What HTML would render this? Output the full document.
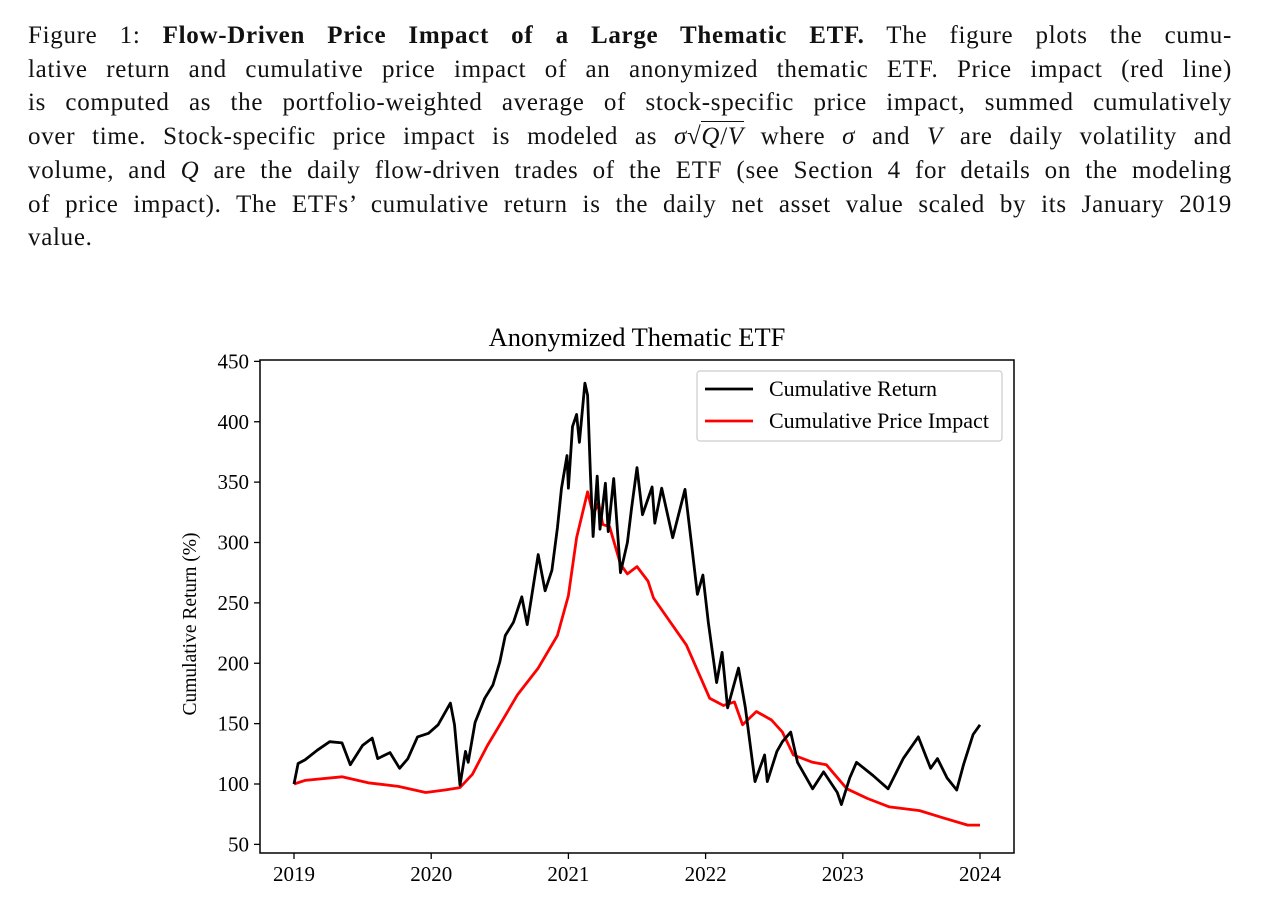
<!DOCTYPE html>
<html><head><meta charset="utf-8"><style>
body{margin:0;background:#fff;width:1269px;height:913px;overflow:hidden;font-family:"Liberation Serif",serif;}
#cap{position:absolute;left:28px;top:19px;width:1204px;font-size:25px;letter-spacing:0.7px;line-height:33.7px;color:#111;}
#cap div{text-align:justify;text-align-last:justify;white-space:nowrap;}
#cap div.last{text-align-last:left;}
.sq{border-top:1.5px solid #111;padding-top:1px;}
</style></head><body>
<div id="cap">
<div>Figure 1: <b>Flow-Driven Price Impact of a Large Thematic ETF.</b> The figure plots the cumu-</div>
<div>lative return and cumulative price impact of an anonymized thematic ETF. Price impact (red line)</div>
<div>is computed as the portfolio-weighted average of stock-specific price impact, summed cumulatively</div>
<div>over time. Stock-specific price impact is modeled as <i>σ</i>√<span class="sq"><i>Q</i>/<i>V</i></span> where <i>σ</i> and <i>V</i> are daily volatility and</div>
<div>volume, and <i>Q</i> are the daily flow-driven trades of the ETF (see Section 4 for details on the modeling</div>
<div>of price impact). The ETFs’ cumulative return is the daily net asset value scaled by its January 2019</div>
<div class="last">value.</div>
</div>
<svg id="chart" width="1269" height="913" style="position:absolute;left:0;top:0" font-family="Liberation Serif, serif"></svg>
<script>
const yTicks=[50,100,150,200,250,300,350,400,450];
const xTicks=[2019,2020,2021,2022,2023,2024];
const retT=[0,0.03,0.08,0.17,0.26,0.35,0.41,0.5,0.57,0.61,0.7,0.77,0.83,0.9,0.98,1.05,1.14,1.17,1.21,1.25,1.27,1.32,1.39,1.45,1.5,1.54,1.6,1.66,1.7,1.73,1.78,1.83,1.88,1.92,1.95,1.99,2,2.03,2.06,2.08,2.12,2.14,2.16,2.18,2.21,2.23,2.27,2.29,2.33,2.38,2.43,2.46,2.5,2.54,2.61,2.63,2.68,2.76,2.85,2.9,2.94,2.98,3.02,3.08,3.12,3.16,3.24,3.29,3.36,3.43,3.45,3.52,3.56,3.62,3.67,3.78,3.86,3.96,3.99,4.05,4.1,4.22,4.33,4.44,4.55,4.64,4.69,4.76,4.83,4.88,4.95,5];
const retV=[100,117,120,128,135,134,116,132,138,121,126,113,121,139,142,149,167,149,99,127,118,151,171,182,201,223,234,255,232,254,290,260,277,312,345,372,345,396,406,383,432,422,357,305,355,311,349,309,353,275,300,328,362,323,346,316,345,304,344,296,257,273,234,184,209,163,196,163,102,124,102,127,135,143,118,96,110,93,83,105,118,107,96,121,139,113,121,105,95,116,141,149];
const impT=[0,0.08,0.35,0.54,0.76,0.96,1.1,1.21,1.3,1.41,1.49,1.63,1.78,1.92,2,2.06,2.14,2.18,2.22,2.25,2.3,2.38,2.43,2.5,2.58,2.62,2.86,3.03,3.13,3.21,3.27,3.37,3.48,3.56,3.64,3.78,3.88,4.03,4.18,4.34,4.56,4.73,4.91,5];
const impV=[100,103,106,101,98,93,95,97,108,132,147,174,196,223,256,304,342,323,333,315,313,282,274,280,268,254,215,171,165,168,149,160,153,143,124,118,116,96,88,81,78,72,66,66];
const svg=document.getElementById('chart');const NS='http://www.w3.org/2000/svg';
const L=260,R=1014,T=360,B=853;
const xs=t=>294+t*137.2;const ys=v=>784-(v-100)*1.2075;
function mk(tag,at,txt){const e=document.createElementNS(NS,tag);for(const k in at)e.setAttribute(k,at[k]);if(txt!=null)e.textContent=txt;svg.appendChild(e);return e;}
let e;
yTicks.forEach(v=>{
 e=mk('line',{x1:L-6,x2:L,y1:ys(v),y2:ys(v),stroke:'#000','stroke-width':1.3});
 
 
 e=mk('text',{x:L-11,y:ys(v)+7,'text-anchor':'end','font-size':21},v);
 
 
});
xTicks.forEach(y=>{
 e=mk('line',{x1:xs(y-2019),x2:xs(y-2019),y1:B,y2:B+6,stroke:'#000','stroke-width':1.3});
 
 
 e=mk('text',{x:xs(y-2019),y:B+28,'text-anchor':'middle','font-size':21},y);
 
 
});
function line(T,V,c,n){const d=T.map((t,i)=>(i?'L':'M')+xs(t).toFixed(1)+','+ys(V[i]).toFixed(1)).join('');
 e=mk('path',{d:d,fill:'none',stroke:c,'stroke-width':2.8,'stroke-linejoin':'round'});
 
 }
line(impT,impV,'#f00','price-impact-line');
line(retT,retV,'#000','cumulative-return-line');
e=mk('rect',{x:L,y:T,width:R-L,height:B-T,fill:'none',stroke:'#000','stroke-width':1.5});


e=mk('text',{x:637,y:346,'text-anchor':'middle','font-size':26.5},'Anonymized Thematic ETF');


e=mk('text',{x:0,y:0,'text-anchor':'middle','font-size':19.5,transform:'translate(196,624) rotate(-90)'},'Cumulative Return (%)');


e=mk('rect',{x:697,y:371,width:305,height:70,rx:3,fill:'#fff',stroke:'#ccc','stroke-width':1.2});


e=mk('line',{x1:705,x2:753,y1:389,y2:389,stroke:'#000','stroke-width':2.8});


e=mk('text',{x:769,y:396,'font-size':22},'Cumulative Return');


e=mk('line',{x1:705,x2:753,y1:421,y2:421,stroke:'#f00','stroke-width':2.8});


e=mk('text',{x:769,y:428,'font-size':22},'Cumulative Price Impact');


</script>
</body></html>
